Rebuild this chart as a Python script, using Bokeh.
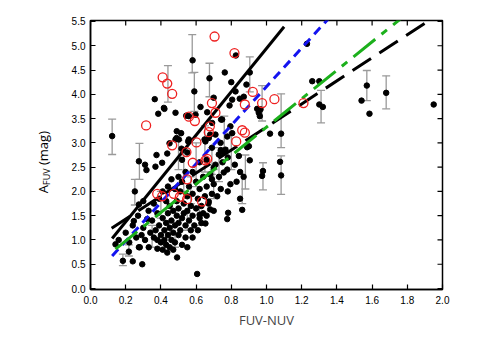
from bokeh.plotting import figure
from bokeh.models import (ColumnDataSource, Whisker, TeeHead, FixedTicker,
                          PrintfTickFormatter, Range1d, Div)
from bokeh.layouts import row
from bokeh.embed import file_html
from bokeh.resources import INLINE
import math

# ---------------- data ----------------
x_ticks = [0.0, 0.2, 0.4, 0.6, 0.8, 1.0, 1.2, 1.4, 1.6, 1.8, 2.0]
y_ticks = [0.0, 0.5, 1.0, 1.5, 2.0, 2.5, 3.0, 3.5, 4.0, 4.5, 5.0, 5.5]
x_label = "FUV-NUV"
y_label_main, y_label_sub, y_label_unit = "A", "FUV", " (mag)"

black_x = [0.123, 0.275, 0.252, 0.365, 0.417, 0.385, 0.483, 0.625, 0.580, 0.590, 0.826, 0.676,
           0.763, 0.905, 0.800, 0.886, 0.824, 0.805, 0.871, 0.848, 0.790, 0.947, 0.966, 1.230,
           1.260, 1.300, 1.300, 1.320, 1.540, 1.570, 1.585, 1.680, 1.950, 1.020, 1.083, 1.077,
           1.083, 0.980, 0.975, 0.905, 0.890, 0.795, 0.757, 0.777, 0.843, 0.318, 0.369, 0.407,
           0.375, 0.436, 0.449, 0.490, 0.489, 0.544, 0.555, 0.517, 0.653, 0.680, 0.748, 0.739,
           0.795, 0.805, 0.767, 0.729, 0.690, 0.700, 0.956, 0.962, 0.754, 0.900, 0.862, 0.782,
           0.777, 0.653, 0.672, 0.680, 0.620, 0.559, 0.597, 0.663, 0.691, 0.420, 0.700, 0.515,
           0.483, 0.502, 0.559, 0.648, 0.672, 0.710, 0.742, 0.777,
           0.142, 0.184, 0.218, 0.240, 0.294, 0.275, 0.331, 0.246, 0.275, 0.322, 0.436, 0.492,
           0.606, 0.200, 0.300, 0.310,
           0.36, 0.37, 0.38, 0.39, 0.40, 0.40, 0.41, 0.42, 0.42, 0.43, 0.43, 0.44, 0.44, 0.45,
           0.45, 0.46, 0.46, 0.47, 0.47, 0.48, 0.48, 0.49, 0.49, 0.50, 0.50, 0.50, 0.51, 0.51,
           0.52, 0.52, 0.53, 0.53, 0.54, 0.54, 0.55, 0.55, 0.56, 0.56, 0.57, 0.57, 0.58, 0.58,
           0.59, 0.60, 0.60, 0.61, 0.62, 0.62, 0.63, 0.64, 0.64, 0.65, 0.66, 0.67, 0.68, 0.69,
           0.70, 0.71, 0.72, 0.73, 0.74, 0.75, 0.35, 0.34, 0.33, 0.36, 0.38, 0.39, 0.41, 0.43,
           0.44, 0.46, 0.48, 0.50, 0.52, 0.54, 0.47, 0.45, 0.41, 0.38, 0.55, 0.58, 0.61, 0.63,
           0.66, 0.70, 0.31, 0.30, 0.29, 0.26, 0.22, 0.27, 0.24, 0.16, 0.28, 0.52, 0.55, 0.58,
           0.62, 0.66, 0.69, 0.74, 0.78, 0.82, 0.85, 0.87, 0.83, 0.78, 0.85]
black_y = [3.14, 2.62, 2.00, 3.90, 3.72, 3.60, 3.62, 3.74, 4.70, 4.06, 4.80, 4.33,
           4.45, 4.45, 4.25, 4.20, 4.06, 3.89, 3.95, 3.91, 3.77, 3.70, 3.69, 5.04,
           4.27, 4.27, 3.79, 3.74, 3.87, 4.18, 3.60, 4.03, 3.79, 3.19, 3.19, 2.61,
           2.33, 2.42, 2.32, 2.64, 2.91, 2.15, 2.39, 2.45, 2.73, 2.44, 2.51, 2.59,
           2.75, 2.78, 2.99, 3.24, 3.10, 3.56, 3.03, 2.88, 3.03, 3.17, 3.48, 3.00,
           3.34, 3.20, 2.86, 2.76, 2.25, 2.49, 3.62, 3.55, 2.81, 2.93, 1.62, 1.56,
           1.43, 1.34, 1.79, 1.63, 1.52, 3.55, 3.58, 3.63, 3.41, 3.70, 3.93, 3.20,
           3.07, 3.07, 3.07, 3.07, 3.10, 3.17, 3.48, 3.13,
           0.91, 0.57, 0.76, 0.56, 0.50, 0.85, 0.85, 1.39, 1.73, 1.43, 0.74, 0.64,
           0.30, 1.15, 1.80, 2.55,
           1.05, 1.20, 1.00, 1.30, 0.95, 1.10, 1.45, 1.00, 1.20, 1.35, 0.90, 1.55, 1.10, 1.25,
           1.70, 1.00, 1.40, 1.15, 1.60, 1.30, 0.95, 1.50, 1.80, 1.10, 1.35, 1.65, 1.20, 2.00,
           1.45, 0.90, 1.55, 1.75, 1.30, 1.05, 1.60, 1.90, 1.40, 2.10, 1.20, 1.70, 1.50, 1.95,
           1.30, 1.65, 2.20, 1.85, 1.45, 2.05, 1.70, 2.30, 1.55, 1.90, 2.10, 1.75, 2.35, 1.95,
           2.15, 2.55, 1.90, 2.30, 2.05, 2.60, 1.40, 1.15, 1.60, 1.75, 1.55, 1.85, 2.00, 1.80,
           2.10, 2.25, 2.05, 2.30, 2.20, 2.40, 0.80, 0.85, 0.80, 0.82, 0.85, 1.05, 1.20, 1.35,
           1.50, 1.60, 1.00, 1.25, 1.10, 1.05, 0.95, 1.50, 1.30, 1.00, 0.85, 2.65, 2.80, 2.40,
           2.60, 2.65, 2.90, 2.85, 2.70, 2.55, 2.40, 2.30, 2.20, 2.00, 1.85]

red_x = [0.410, 0.436, 0.464, 0.705, 0.818, 0.922, 0.877, 0.975, 1.045, 0.690, 1.210, 0.316,
         0.464, 0.559, 0.593, 0.545, 0.581, 0.602, 0.549, 0.379, 0.407, 0.473, 0.508, 0.549,
         0.634, 0.678, 0.672, 0.862, 0.877, 0.828, 0.710, 0.653, 0.663]
red_y = [4.35, 4.22, 4.01, 5.19, 4.85, 4.05, 3.79, 3.82, 3.90, 3.82, 3.82, 3.36,
         2.95, 3.54, 3.45, 2.81, 2.59, 3.01, 2.25, 1.95, 1.90, 1.95, 1.89, 1.84,
         1.79, 3.34, 3.22, 3.26, 3.21, 3.03, 3.62, 2.64, 2.67]

err_x = [0.123, 0.278, 0.252, 0.184, 0.218, 0.440, 0.578, 0.590, 0.676, 0.905, 1.310, 1.570,
         1.680, 1.083, 1.083, 0.980, 0.975, 0.500, 0.530, 0.600, 0.650, 0.700, 0.760, 0.800,
         0.880, 0.570, 0.450, 0.400, 0.480, 0.620, 0.350, 0.730, 0.550, 0.862, 0.690]
err_lo = [2.76, 2.25, 1.72, 0.47, 0.67, 3.84, 4.44, 3.65, 3.95, 4.05, 3.41, 3.87,
          3.70, 1.94, 2.90, 2.03, 3.45, 2.45, 2.00, 2.10, 2.40, 1.85, 2.90, 2.45,
          2.05, 1.75, 1.05, 1.45, 0.85, 1.30, 0.85, 2.20, 1.20, 1.75, 2.35]
err_hi = [3.49, 2.99, 2.25, 0.71, 0.90, 4.59, 5.23, 4.45, 4.64, 4.77, 4.08, 4.49,
          4.38, 2.73, 4.01, 2.59, 4.18, 3.05, 2.80, 3.00, 3.35, 2.45, 3.55, 3.20,
          2.75, 2.30, 1.40, 2.00, 1.15, 1.70, 1.30, 2.90, 1.55, 2.35, 2.90]

# fitted relations (end points)
fit_black_solid_x = [0.123, 1.10]
fit_black_solid_y = [1.03, 5.39]
fit_black_dash_x = [0.12, 2.0]
fit_black_dash_y = [1.24, 5.70]
fit_blue_x = [0.123, 1.36]
fit_blue_y = [0.67, 5.59]
fit_green_x = [0.142, 1.76]
fit_green_y = [0.81, 5.55]

X0, X1 = 0.0, 2.0
Y0, Y1 = -0.02, 5.52

# ---------------- figure ----------------
LEFT_DIV_W = 58
p = figure(width=424, height=331, output_backend="svg", toolbar_location=None,
           x_range=Range1d(X0, X1), y_range=Range1d(Y0, Y1),
           min_border_left=90 - LEFT_DIV_W, min_border_right=40,
           min_border_top=20, min_border_bottom=42)
p.xgrid.visible = False
p.ygrid.visible = False
p.outline_line_color = "black"
p.outline_line_width = 1.5
p.background_fill_color = "white"
p.border_fill_color = "white"

err_src = ColumnDataSource(dict(x=err_x, lo=err_lo, hi=err_hi))
gray = "#9a9a9a"
wh = Whisker(base="x", lower="lo", upper="hi", source=err_src, dimension="height",
             line_color=gray, line_width=1.3,
             upper_head=TeeHead(size=8, line_color=gray, line_width=1.3),
             lower_head=TeeHead(size=8, line_color=gray, line_width=1.3))
p.add_layout(wh)

p.scatter(black_x, black_y, size=5.5, color="black")

p.line(fit_black_solid_x, fit_black_solid_y, line_color="black", line_width=3)
p.line(fit_black_dash_x, fit_black_dash_y, line_color="black", line_width=3, line_dash="22 10")
p.line(fit_blue_x, fit_blue_y, line_color="#1414f0", line_width=3, line_dash="9 6")
p.line(fit_green_x, fit_green_y, line_color="#1cb01c", line_width=3, line_dash="28 8 7 8")

p.scatter(red_x, red_y, size=9, fill_color=None, line_color="#ee2020", line_width=1.3)

# inward ticks on the top and right sides of the box
p.ray(x=x_ticks, y=[Y1] * len(x_ticks), length=5, length_units="screen",
      angle=-math.pi / 2, line_color="black", line_width=1.2)
p.ray(x=[X1] * len(y_ticks), y=y_ticks, length=5, length_units="screen",
      angle=math.pi, line_color="black", line_width=1.2)

tick_font = "Liberation Sans"
for ax in (p.xaxis[0], p.yaxis[0]):
    ax.major_tick_in = 5
    ax.major_tick_out = 0
    ax.minor_tick_line_color = None
    ax.axis_line_width = 1.5
    ax.major_tick_line_width = 1.2
    ax.major_label_text_font = tick_font
    ax.major_label_text_font_size = "10px"
    ax.major_label_text_color = "black"
    ax.formatter = PrintfTickFormatter(format="%.1f")
p.xaxis[0].ticker = FixedTicker(ticks=x_ticks)
p.yaxis[0].ticker = FixedTicker(ticks=y_ticks)
p.xaxis[0].major_label_standoff = 6
p.yaxis[0].major_label_standoff = 5

p.xaxis[0].axis_label = x_label
p.xaxis[0].axis_label_text_font = "Open Sans"
p.xaxis[0].axis_label_text_font_style = "normal"
p.xaxis[0].axis_label_text_font_size = "13px"
p.xaxis[0].axis_label_standoff = 4

# y-axis label with a subscript, as rotated HTML text beside the plot
ylab_html = (
    '<div style="display:inline-block; margin-left:37px; margin-top:131px; '
    'writing-mode:vertical-rl; transform:rotate(180deg); white-space:nowrap; '
    "font-family:'Open Sans'; font-size:13px; line-height:1; color:black;\">"
    + y_label_main
    + '<sub style="font-size:9px; vertical-align:sub;">' + y_label_sub + '</sub>'
    + y_label_unit.replace(" ", "&nbsp;") + '</div>'
)
ylab = Div(text=ylab_html, width=LEFT_DIV_W, height=331, margin=(0, 0, 0, 0))

layout = row(ylab, p, spacing=0)
open("out.html", "w").write(file_html(layout, INLINE))
